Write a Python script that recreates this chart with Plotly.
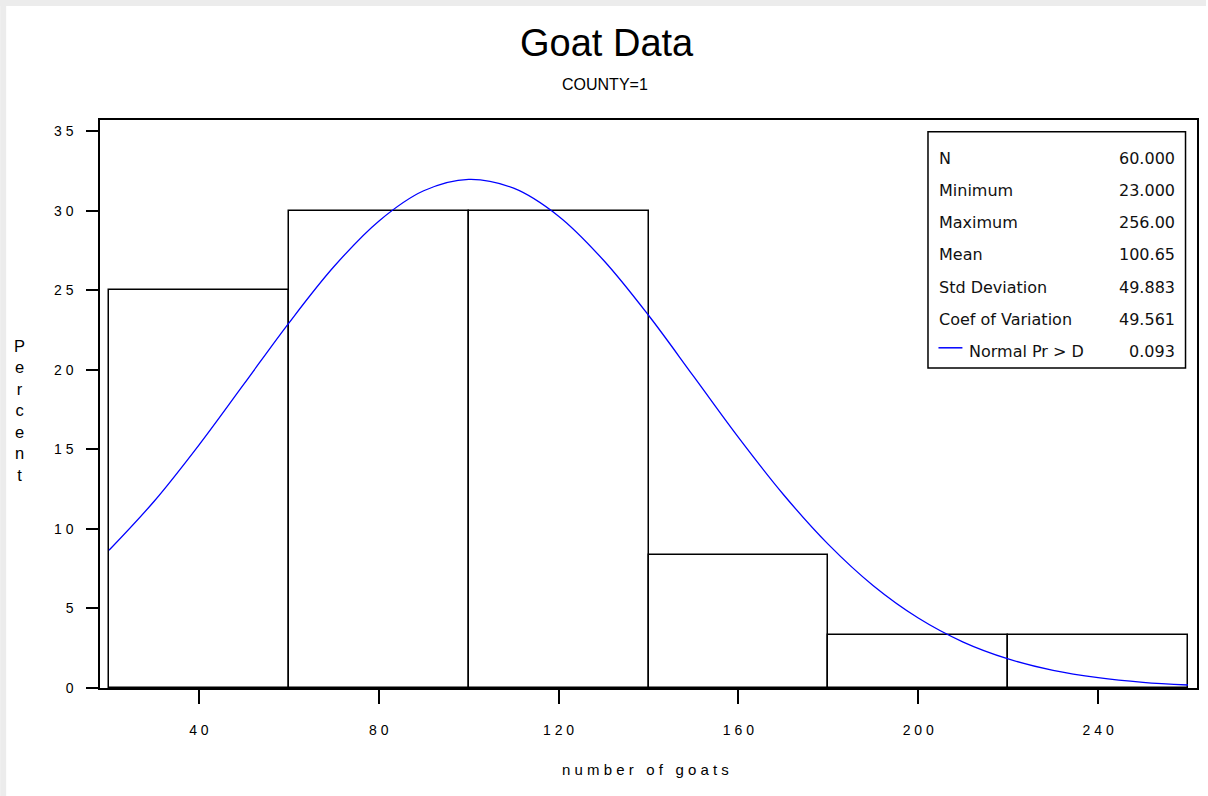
import plotly.graph_objects as go

# ---- data ----
bin_centers = [40, 80, 120, 160, 200, 240]
bin_width = 40
bar_percent = [25.0, 30.0, 30.0, 8.333, 3.333, 3.333]

curve_x = [20, 30, 40, 50, 60, 70, 80, 90, 100, 110, 120, 130, 140, 150, 160,
           170, 180, 190, 200, 210, 220, 230, 240, 250, 260]
curve_y = [8.66, 11.73, 15.28, 19.11, 22.95, 26.49, 29.36, 31.27, 31.99, 31.43,
           29.67, 26.90, 23.44, 19.61, 15.76, 12.17, 9.03, 6.43, 4.40, 2.89,
           1.83, 1.11, 0.65, 0.36, 0.19]

x_ticks = [40, 80, 120, 160, 200, 240]
x_ticklabels = ["4 0", "8 0", "1 2 0", "1 6 0", "2 0 0", "2 4 0"]
y_ticks = [0, 5, 10, 15, 20, 25, 30, 35]
y_ticklabels = ["0", "5", "1 0", "1 5", "2 0", "2 5", "3 0", "3 5"]

stat_names = ["N", "Minimum", "Maximum", "Mean", "Std Deviation", "Coef of Variation", "Normal Pr > D"]
stat_values = ["60.000", "23.000", "256.00", "100.65", "49.883", "49.561", "0.093"]

# ---- layout geometry (pixels) ----
W, H = 1208, 796
L, R, T, B = 100, 9, 120, 108
pw, ph = W - L - R, H - T - B


def px_x(p):
    return (p - L) / pw


def px_y(p):
    return (H - B - p) / ph


fig = go.Figure()
fig.add_trace(go.Bar(
    x=bin_centers, y=bar_percent, width=bin_width,
    marker=dict(color="white", line=dict(color="black", width=1.5)),
    hoverinfo="skip", showlegend=False,
))
fig.add_trace(go.Scatter(
    x=curve_x, y=curve_y, mode="lines", line=dict(color="#0000ff", width=1.3, shape="spline"),
    showlegend=False,
))

axis_font = dict(family="Liberation Sans, Arial, sans-serif", size=14, color="black")

fig.update_xaxes(
    range=[18, 262], tickvals=x_ticks, ticktext=x_ticklabels,
    showline=True, linecolor="black", linewidth=1.5, mirror=True,
    ticks="outside", ticklen=14, tickwidth=1.5, tickcolor="black",
    showgrid=False, zeroline=False, tickfont=axis_font, ticklabelstandoff=14,
)
fig.update_yaxes(
    range=[0, 35.72], tickvals=y_ticks, ticktext=y_ticklabels,
    showline=True, linecolor="black", linewidth=1.5, mirror=True,
    ticks="outside", ticklen=12, tickwidth=1.5, tickcolor="black",
    showgrid=False, zeroline=False, tickfont=axis_font, ticklabelstandoff=10,
)

shapes = []
# light gray page border (top and left)
shapes.append(dict(type="rect", xref="paper", yref="paper",
                   x0=px_x(0), x1=px_x(W), y0=px_y(6), y1=px_y(0),
                   fillcolor="#ececec", line=dict(width=0), layer="below"))
shapes.append(dict(type="rect", xref="paper", yref="paper",
                   x0=px_x(0), x1=px_x(6), y0=px_y(H), y1=px_y(0),
                   fillcolor="#ececec", line=dict(width=0), layer="below"))
# stats box
shapes.append(dict(type="rect", xref="paper", yref="paper",
                   x0=px_x(929.5), x1=px_x(1187.5), y0=px_y(368), y1=px_y(131.7),
                   fillcolor="white", line=dict(color="black", width=1.5), layer="above"))

annotations = []
box_font = dict(family="DejaVu Sans, sans-serif", size=16, color="#111111")
row0, dy = 158, 32.3
for i, (name, val) in enumerate(zip(stat_names, stat_values)):
    yy = px_y(row0 + i * dy)
    lx = 939 if i < len(stat_names) - 1 else 969
    annotations.append(dict(xref="paper", yref="paper", x=px_x(lx), y=yy, text=name,
                            showarrow=False, xanchor="left", yanchor="middle", font=box_font))
    annotations.append(dict(xref="paper", yref="paper", x=px_x(1179), y=yy, text=val,
                            showarrow=False, xanchor="right", yanchor="middle", font=box_font))
# legend line for the normal curve
shapes.append(dict(type="line", xref="paper", yref="paper",
                   x0=px_x(940), x1=px_x(964), y0=px_y(row0 + 6 * dy - 4), y1=px_y(row0 + 6 * dy - 4),
                   line=dict(color="#0000ff", width=1.5)))

# titles
annotations.append(dict(xref="paper", yref="paper", x=px_x(608), y=px_y(43), text="Goat Data",
                        showarrow=False, xanchor="center", yanchor="middle",
                        font=dict(family="Liberation Sans, Arial, sans-serif", size=38, color="black")))
annotations.append(dict(xref="paper", yref="paper", x=px_x(606), y=px_y(85), text="COUNTY=1",
                        showarrow=False, xanchor="center", yanchor="middle",
                        font=dict(family="Liberation Sans, Arial, sans-serif", size=16, color="black")))
annotations.append(dict(xref="paper", yref="paper", x=px_x(646), y=px_y(769),
                        text="n u m b e r &nbsp; o f &nbsp; g o a t s",
                        showarrow=False, xanchor="center", yanchor="middle",
                        font=dict(family="Liberation Sans, Arial, sans-serif", size=15, color="black")))
annotations.append(dict(xref="paper", yref="paper", x=px_x(19), y=px_y(410),
                        text="P<br>e<br>r<br>c<br>e<br>n<br>t",
                        showarrow=False, xanchor="center", yanchor="middle",
                        font=dict(family="Liberation Sans, Arial, sans-serif", size=16.5, color="black")))

fig.update_layout(
    width=W, height=H,
    margin=dict(l=L, r=R, t=T, b=B, pad=0),
    paper_bgcolor="white", plot_bgcolor="white",
    shapes=shapes, annotations=annotations,
    bargap=0, showlegend=False,
)

fig.write_html(
    "out.html",
    config={"displayModeBar": False},
    post_script="document.body.style.margin='0px';document.body.style.overflow='hidden';",
)
